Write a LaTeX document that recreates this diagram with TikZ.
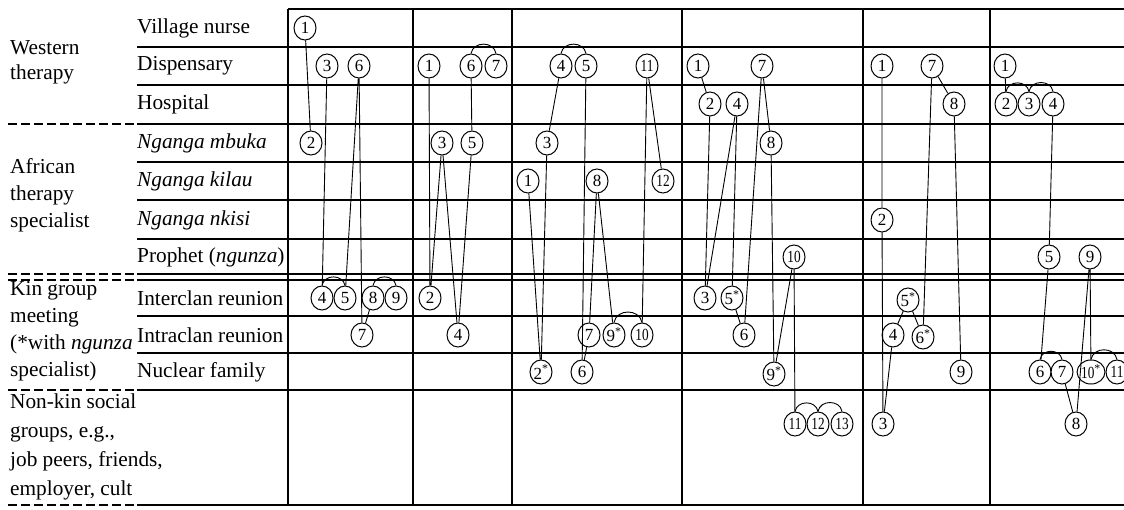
\documentclass[tikz,border=0pt]{standalone}
\usepackage{fontspec}
\setmainfont{Liberation Serif}
\usetikzlibrary{shapes.geometric}
\newcommand\twodig[1]{\scalebox{0.78}[1]{#1}}

\begin{document}
\begin{tikzpicture}[
  x=1pt, y=1pt,
  rule/.style={line width=1.1pt},
  dashrule/.style={line width=1.1pt, dash pattern=on 9pt off 4pt},
  rowlabel/.style={anchor=west, inner sep=0pt, font=\fontsize{21.3}{25}\selectfont},
  grouplabel/.style={anchor=west, inner sep=0pt, align=left, font=\fontsize{21.3}{27}\selectfont},
  visit/.style={ellipse, draw, line width=1pt, fill=white, inner sep=0pt, minimum width=22pt, minimum height=24pt, font=\fontsize{17}{17}\selectfont},
  link/.style={line width=0.9pt},
  hop/.style={line width=0.9pt, out=80, in=100, looseness=1.3}
]
\useasboundingbox (0,0) rectangle (1124,-510);
\clip (0,0) rectangle (1124,-510);

% table rules
\draw[rule] (288,-9) -- (1124,-9);
\foreach \y in {47,85,124,162,200,239,274,280,316,353,390,505}
  \draw[rule] (137,-\y) -- (1124,-\y);
\foreach \y in {124,274,280,390,505}
  \draw[dashrule] (8,-\y) -- (137,-\y);
\foreach \x in {288,413,512,682,863,990}
  \draw[rule] (\x,-9) -- (\x,-505);

% row and group labels
\node[grouplabel, font=\fontsize{21.3}{25}\selectfont] (western) at (10,-62) {Western\\therapy};
\node[grouplabel] (african) at (10,-195) {African\\therapy\\specialist};
\node[grouplabel] (kin) at (10,-331) {Kin group\\meeting\\(*with \textit{ngunza}\\specialist)};
\node[grouplabel, font=\fontsize{21.3}{29}\selectfont] (nonkin) at (10,-447) {Non-kin social\\groups, e.g.,\\job peers, friends,\\employer, cult};

\node[rowlabel] (nurse) at (137,-28) {Village nurse};
\node[rowlabel] (dispensary) at (137,-66) {Dispensary};
\node[rowlabel] (hospital) at (137,-104) {Hospital};
\node[rowlabel] (mbuka) at (137,-143) {\textit{Nganga mbuka}};
\node[rowlabel] (kilau) at (137,-181) {\textit{Nganga kilau}};
\node[rowlabel] (nkisi) at (137,-220) {\textit{Nganga nkisi}};
\node[rowlabel] (prophet) at (137,-257) {Prophet (\textit{ngunza})};
\node[rowlabel] (interclan) at (137,-298) {Interclan reunion};
\node[rowlabel] (intraclan) at (137,-335) {Intraclan reunion};
\node[rowlabel] (nuclear) at (137,-372) {Nuclear family};

% case 1
\node[visit] (c1n1) at (305,-28) {1};
\node[visit] (c1n2) at (311,-143) {2};
\node[visit] (c1n3) at (327,-66) {3};
\node[visit] (c1n4) at (322,-298) {4};
\node[visit] (c1n5) at (345,-298) {5};
\node[visit] (c1n6) at (359,-66) {6};
\node[visit] (c1n7) at (362,-335) {7};
\node[visit] (c1n8) at (373,-298) {8};
\node[visit] (c1n9) at (396,-298) {9};
\draw[link] (c1n1) -- (c1n2) (c1n3) -- (c1n4) (c1n5) -- (c1n6) (c1n6) -- (c1n7) (c1n7) -- (c1n8);
\draw[hop] (c1n4.north) to (c1n5.north);
\draw[hop] (c1n8.north) to (c1n9.north);

% case 2
\node[visit] (c2n1) at (429,-66) {1};
\node[visit] (c2n2) at (430,-298) {2};
\node[visit] (c2n3) at (442,-143) {3};
\node[visit] (c2n4) at (458,-335) {4};
\node[visit] (c2n5) at (472,-143) {5};
\node[visit] (c2n6) at (471,-66) {6};
\node[visit] (c2n7) at (496,-66) {7};
\draw[link] (c2n1) -- (c2n2) (c2n2) -- (c2n3) (c2n3) -- (c2n4) (c2n4) -- (c2n5) (c2n5) -- (c2n6);
\draw[hop] (c2n6.north) to (c2n7.north);

% case 3
\node[visit] (c3n1) at (528,-181) {1};
\node[visit] (c3n2) at (541,-372) {2\textsuperscript{*}};
\node[visit] (c3n3) at (547,-143) {3};
\node[visit] (c3n4) at (561,-66) {4};
\node[visit] (c3n5) at (586,-66) {5};
\node[visit] (c3n6) at (582,-372) {6};
\node[visit] (c3n7) at (589,-335) {7};
\node[visit] (c3n8) at (597,-181) {8};
\node[visit] (c3n9) at (614,-335) {9\textsuperscript{*}};
\node[visit] (c3n10) at (642,-335) {\twodig{10}};
\node[visit] (c3n11) at (647,-66) {\twodig{11}};
\node[visit] (c3n12) at (663,-181) {\twodig{12}};
\draw[link] (c3n1) -- (c3n2) (c3n2) -- (c3n3) (c3n3) -- (c3n4) (c3n5) -- (c3n6) (c3n6) -- (c3n7)
  (c3n7) -- (c3n8) (c3n8) -- (c3n9) (c3n10) -- (c3n11) (c3n11) -- (c3n12);
\draw[hop] (c3n4.north) to (c3n5.north);
\draw[hop] (c3n9.north) to (c3n10.north);

% case 4
\node[visit] (c4n1) at (698,-66) {1};
\node[visit] (c4n2) at (710,-104) {2};
\node[visit] (c4n3) at (705,-298) {3};
\node[visit] (c4n4) at (737,-104) {4};
\node[visit] (c4n5) at (732,-298) {5\textsuperscript{*}};
\node[visit] (c4n6) at (744,-335) {6};
\node[visit] (c4n7) at (762,-66) {7};
\node[visit] (c4n8) at (771,-143) {8};
\node[visit] (c4n9) at (774,-374) {9\textsuperscript{*}};
\node[visit] (c4n10) at (794,-257) {\twodig{10}};
\node[visit] (c4n11) at (795,-424) {\twodig{11}};
\node[visit] (c4n12) at (818,-424) {\twodig{12}};
\node[visit] (c4n13) at (842,-424) {\twodig{13}};
\draw[link] (c4n1) -- (c4n2) (c4n2) -- (c4n3) (c4n3) -- (c4n4) (c4n4) -- (c4n5) (c4n5) -- (c4n6)
  (c4n6) -- (c4n7) (c4n7) -- (c4n8) (c4n8) -- (c4n9) (c4n9) -- (c4n10) (c4n10) -- (c4n11);
\draw[hop] (c4n11.north) to (c4n12.north);
\draw[hop] (c4n12.north) to (c4n13.north);

% case 5
\node[visit] (c5n1) at (882,-66) {1};
\node[visit] (c5n2) at (882,-220) {2};
\node[visit] (c5n3) at (883,-424) {3};
\node[visit] (c5n4) at (893,-335) {4};
\node[visit] (c5n5) at (908,-300) {5\textsuperscript{*}};
\node[visit] (c5n6) at (923,-337) {6\textsuperscript{*}};
\node[visit] (c5n7) at (932,-66) {7};
\node[visit] (c5n8) at (954,-104) {8};
\node[visit] (c5n9) at (961,-372) {9};
\draw[link] (c5n1) -- (c5n2) (c5n2) -- (c5n3) (c5n3) -- (c5n4) (c5n4) -- (c5n5) (c5n5) -- (c5n6)
  (c5n6) -- (c5n7) (c5n7) -- (c5n8) (c5n8) -- (c5n9);

% case 6
\node[visit] (c6n1) at (1005,-66) {1};
\node[visit] (c6n2) at (1006,-104) {2};
\node[visit] (c6n3) at (1029,-104) {3};
\node[visit] (c6n4) at (1053,-104) {4};
\node[visit] (c6n5) at (1049,-257) {5};
\node[visit] (c6n6) at (1040,-372) {6};
\node[visit] (c6n7) at (1062,-372) {7};
\node[visit] (c6n8) at (1076,-424) {8};
\node[visit] (c6n9) at (1090,-257) {9};
\node[visit] (c6n10) at (1091,-372) {\twodig{10}\textsuperscript{*}};
\node[visit] (c6n11) at (1117,-372) {\twodig{11}};
\draw[link] (c6n1) -- (c6n2) (c6n4) -- (c6n5) (c6n5) -- (c6n6) (c6n7) -- (c6n8) (c6n8) -- (c6n9) (c6n9) -- (c6n10);
\draw[hop] (c6n2.north) to (c6n3.north);
\draw[hop] (c6n3.north) to (c6n4.north);
\draw[hop] (c6n6.north) to (c6n7.north);
\draw[hop] (c6n10.north) to (c6n11.north);
\end{tikzpicture}
\end{document}
